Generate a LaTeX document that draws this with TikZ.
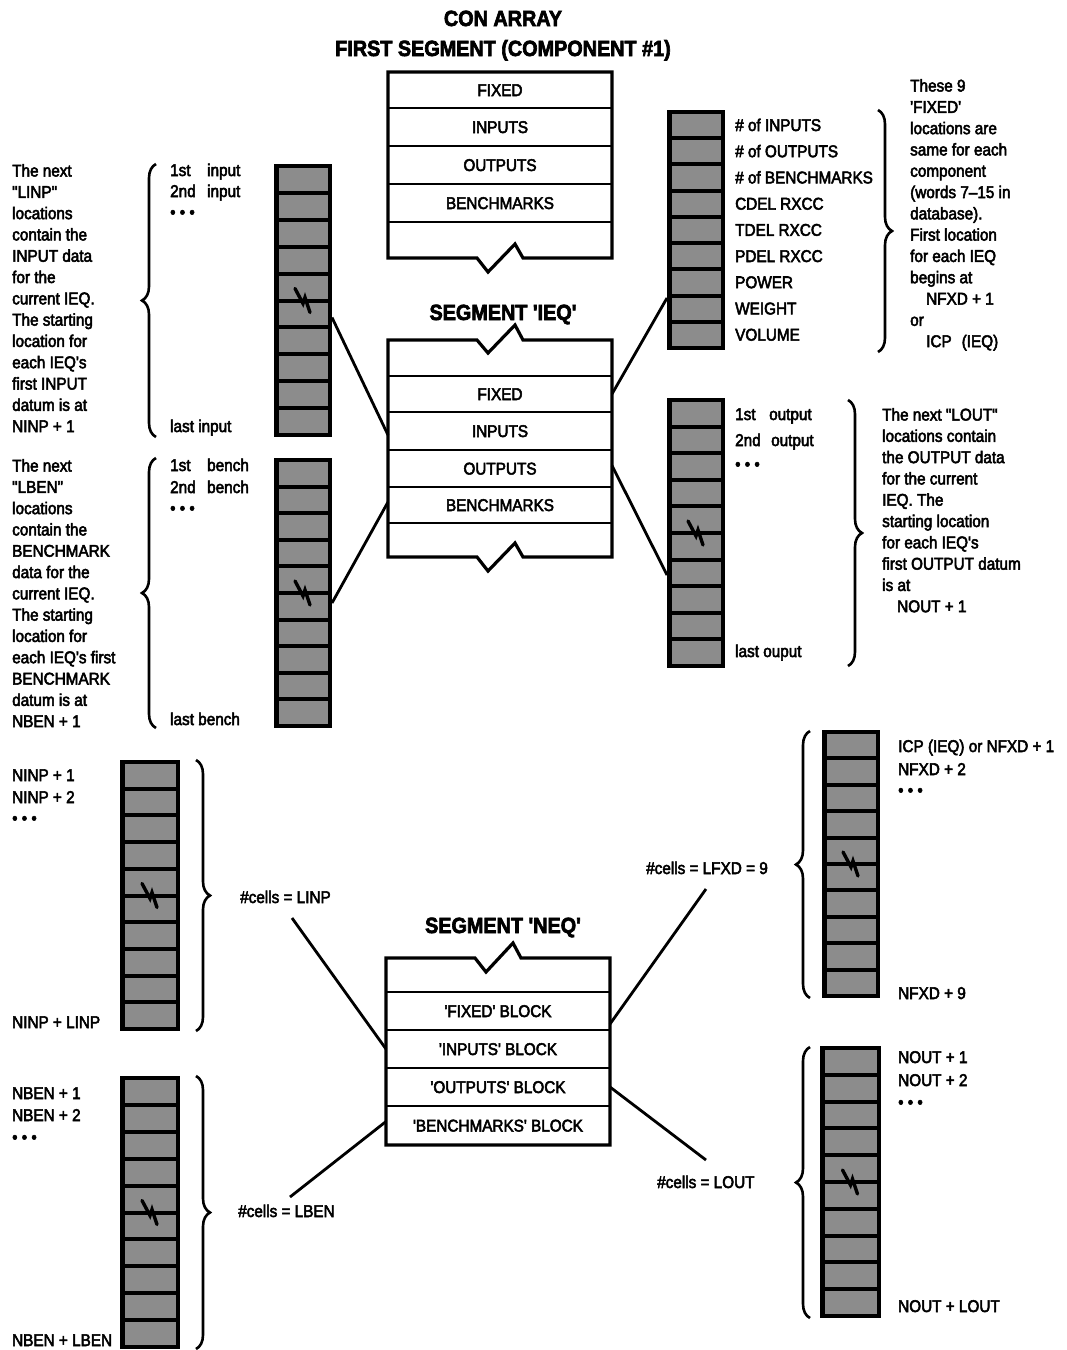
\documentclass[tikz,border=0pt]{standalone}
\usepackage{fontspec}
\setmainfont{Liberation Sans}[FakeStretch=0.9, Ligatures=TeXOff, FakeBold=3]
\usetikzlibrary{decorations.pathreplacing,calc}

\newcommand\cellstack[7]{%
  \pgfmathsetmacro\stW{#4-#2}%
  \pgfmathsetmacro\stH{#5-#3}%
  \node[stackbox, minimum width=\stW pt, minimum height=\stH pt] (#1) at ({(#2+#4)/2},{(#3+#5)/2}) {};%
  \pgfmathsetmacro\stP{(#5-#3-4)/#6}%
  \foreach \i in {1,...,#6} {%
    \fill[cellgray] ({#2+4.5},{#3+4+(\i-1)*\stP}) rectangle ({#4-4.5},{#3+\i*\stP});%
  }%
  \ifnum#7=1
    \pgfmathsetmacro\stY{#3+2+floor(#6/2)*\stP}%
    \pgfmathsetmacro\stX{(#2+#4)/2-1}%
    \draw[bolt] ({\stX-7},{\stY-12}) -- ({\stX+1},{\stY+3}) -- ({\stX+3},{\stY-3}) -- ({\stX+8},{\stY+12});%
  \fi
}

\begin{document}
\begin{tikzpicture}[x=1pt,y=-1pt, font=\fontsize{17}{21.3}\selectfont,
 stackbox/.style={fill=black, inner sep=0pt, outer sep=0pt, rectangle},
 cellgray/.style={fill=black!45},
 bolt/.style={line width=3.4pt, line cap=round, line join=miter},
 segrow/.style={draw, line width=1.5pt, minimum width=224pt, inner sep=0pt, outer sep=0pt, text height=12pt, text depth=0pt},
 segout/.style={line width=3.2pt, line join=miter},
 conn/.style={line width=2.8pt},
 brc/.style={decorate, decoration={brace, amplitude=14pt}, line width=2.6pt},
 lbl/.style={anchor=west, inner sep=0pt, text height=12pt, text depth=0pt},
 blk/.style={anchor=north west, inner sep=0pt, align=left},
 ttl/.style={font=\fontsize{22}{26}\selectfont\bfseries, inner sep=0pt, text height=16pt, text depth=0pt}]

\fill[white] (0,0) rectangle (1067,1350);
\useasboundingbox (0,0) rectangle (1067,1350);

% ---------- titles ----------
\node[ttl] (t1) at (503,18) {CON ARRAY};
\node[ttl] (t2) at (503,48) {FIRST SEGMENT (COMPONENT \#1)};
\node[ttl] (t3) at (503,312) {SEGMENT 'IEQ'};
\node[ttl] (t4) at (503,925) {SEGMENT 'NEQ'};

% ---------- first segment box ----------
\node[segrow, minimum height=36pt] (tFix) at (500,90) {FIXED};
\node[segrow, minimum height=38pt] (tIn) at (500,127) {INPUTS};
\node[segrow, minimum height=38pt] (tOut) at (500,165) {OUTPUTS};
\node[segrow, minimum height=38pt] (tBen) at (500,203) {BENCHMARKS};
\draw[segout] (tFix.north west) -- (tFix.north east) -- (612,258) -- (523,258) -- (515,244) -- (488,272) -- (477,258) -- (388,258) -- cycle;

% ---------- segment IEQ box ----------
\node[segrow, minimum height=36pt] (iFix) at (500,394) {FIXED};
\node[segrow, minimum height=38pt] (iIn) at (500,431) {INPUTS};
\node[segrow, minimum height=37pt] (iOut) at (500,468.5) {OUTPUTS};
\node[segrow, minimum height=36pt] (iBen) at (500,505) {BENCHMARKS};
\draw[segout] (388,340) -- (477,340) -- (488,353) -- (515,325) -- (523,340) -- (612,340) -- (612,557) -- (523,557) -- (515,543) -- (488,571) -- (477,557) -- (388,557) -- cycle;

% ---------- segment NEQ box ----------
\node[segrow, minimum height=38pt] (nFix) at (498,1011) {'FIXED' BLOCK};
\node[segrow, minimum height=38pt] (nIn) at (498,1049) {'INPUTS' BLOCK};
\node[segrow, minimum height=38pt] (nOut) at (498,1087) {'OUTPUTS' BLOCK};
\node[segrow, minimum height=39pt] (nBen) at (498,1125.5) {'BENCHMARKS' BLOCK};
\draw[segout] (386,958) -- (475,958) -- (486,972) -- (513,943) -- (521,958) -- (610,958) -- (nBen.south east) -- (nBen.south west) -- cycle;

% ---------- cell stacks ----------
\cellstack{stA}{274}{164}{332}{437}{10}{1}
\cellstack{stB}{274}{458}{332}{728}{10}{1}
\cellstack{stC}{667}{110}{725}{350}{9}{0}
\cellstack{stD}{667}{398}{725}{668}{10}{1}
\cellstack{stE}{120}{760}{180}{1031}{10}{1}
\cellstack{stF}{120}{1076}{180}{1349}{10}{1}
\cellstack{stG}{822}{730}{880}{998}{10}{1}
\cellstack{stH}{820}{1046}{881}{1318}{10}{1}

% ---------- braces ----------
\draw[brc] (156,437) -- (156,164);
\draw[brc] (156,728) -- (156,458);
\draw[brc] (878,110) -- (878,352);
\draw[brc] (848,400) -- (848,666);
\draw[brc] (196,760) -- (196,1031);
\draw[brc] (196,1076) -- (196,1349);
\draw[brc] (810,998) -- (810,731);
\draw[brc] (810,1318) -- (810,1047);

% ---------- stack A labels ----------
\node[lbl] (a1) at (170,170) {\makebox[37pt][l]{1st}input};
\node[lbl] (a2) at (170,191) {\makebox[37pt][l]{2nd}input};
\node[lbl] (a3) at (170,212) {• • •};
\node[lbl] (a4) at (170,426) {last input};
\node[blk] (aT) at (12,164) {The next\\"LINP"\\locations\\contain the\\INPUT data\\for the\\current IEQ.\\The starting\\location for\\each IEQ's\\first INPUT\\datum is at\\NINP + 1};

% ---------- stack B labels ----------
\node[lbl] (b1) at (170,465) {\makebox[37pt][l]{1st}bench};
\node[lbl] (b2) at (170,487) {\makebox[37pt][l]{2nd}bench};
\node[lbl] (b3) at (170,508) {• • •};
\node[lbl] (b4) at (170,719) {last bench};
\node[blk] (bT) at (12,459) {The next\\"LBEN"\\locations\\contain the\\BENCHMARK\\data for the\\current IEQ.\\The starting\\location for\\each IEQ's first\\BENCHMARK\\datum is at\\NBEN + 1};

% ---------- stack C labels ----------
\node[lbl] (c1) at (735,125) {\# of INPUTS};
\node[lbl] (c2) at (735,151.2) {\# of OUTPUTS};
\node[lbl] (c3) at (735,177.4) {\# of BENCHMARKS};
\node[lbl] (c4) at (735,203.6) {CDEL RXCC};
\node[lbl] (c5) at (735,229.8) {TDEL RXCC};
\node[lbl] (c6) at (735,256) {PDEL RXCC};
\node[lbl] (c7) at (735,282.2) {POWER};
\node[lbl] (c8) at (735,308.4) {WEIGHT};
\node[lbl] (c9) at (735,334.6) {VOLUME};
\node[blk] (cT) at (910,79) {These 9\\'FIXED'\\locations are\\same for each\\component\\(words 7–15 in\\database).\\First location\\for each IEQ\\begins at\\\hspace*{16pt}NFXD + 1\\or\\\hspace*{16pt}ICP\hspace{10pt}(IEQ)};

% ---------- stack D labels ----------
\node[lbl] (d1) at (735,414) {\makebox[34pt][l]{1st}output};
\node[lbl] (d2) at (735,440) {\makebox[36pt][l]{2nd}output};
\node[lbl] (d3) at (735,464) {• • •};
\node[lbl] (d4) at (735,651) {last ouput};
\node[blk] (dT) at (882,408) {The next "LOUT"\\locations contain\\the OUTPUT data\\for the current\\IEQ. The\\starting location\\for each IEQ's\\first OUTPUT datum\\is at\\\hspace*{15pt}NOUT + 1};

% ---------- stack E labels ----------
\node[lbl] (e1) at (12,775) {NINP + 1};
\node[lbl] (e2) at (12,797) {NINP + 2};
\node[lbl] (e3) at (12,818) {• • •};
\node[lbl] (e4) at (12,1022) {NINP + LINP};
\node[lbl] (eL) at (240,897) {\#cells = LINP};

% ---------- stack F labels ----------
\node[lbl] (f1) at (12,1093) {NBEN + 1};
\node[lbl] (f2) at (12,1115) {NBEN + 2};
\node[lbl] (f3) at (12,1137) {• • •};
\node[lbl] (f4) at (12,1340) {NBEN + LBEN};
\node[lbl] (fL) at (238,1211) {\#cells = LBEN};

% ---------- stack G labels ----------
\node[lbl] (g1) at (898,746) {ICP (IEQ) or NFXD + 1};
\node[lbl] (g2) at (898,769) {NFXD + 2};
\node[lbl] (g3) at (898,790) {• • •};
\node[lbl] (g4) at (898,993) {NFXD + 9};
\node[lbl] (gL) at (646,868) {\#cells = LFXD = 9};

% ---------- stack H labels ----------
\node[lbl] (h1) at (898,1057) {NOUT + 1};
\node[lbl] (h2) at (898,1080) {NOUT + 2};
\node[lbl] (h3) at (898,1102) {• • •};
\node[lbl] (h4) at (898,1306) {NOUT + LOUT};
\node[lbl] (hL) at (657,1182) {\#cells = LOUT};

% ---------- connectors ----------
\draw[conn] ($(stA.east)+(0,17)$) -- ($(iIn.west)+(0,4)$);
\draw[conn] ($(stB.east)+(0,10)$) -- ($(iBen.west)+(0,-3)$);
\draw[conn] (iFix.east) -- ($(stC.west)+(0,68)$);
\draw[conn] ($(iOut.east)+(0,-3)$) -- ($(stD.west)+(0,42)$);

\coordinate (eE) at (292,918);
\coordinate (eF) at (290,1197);
\coordinate (eG) at (706,889);
\coordinate (eH) at (706,1160);
\draw[conn] (eE) -- (nIn.west);
\draw[conn] (eF) -- ($(nBen.west)+(0,-4)$);
\draw[conn] (eG) -- ($(nFix.east)+(0,13)$);
\draw[conn] (eH) -- (nOut.east);
\end{tikzpicture}
\end{document}
